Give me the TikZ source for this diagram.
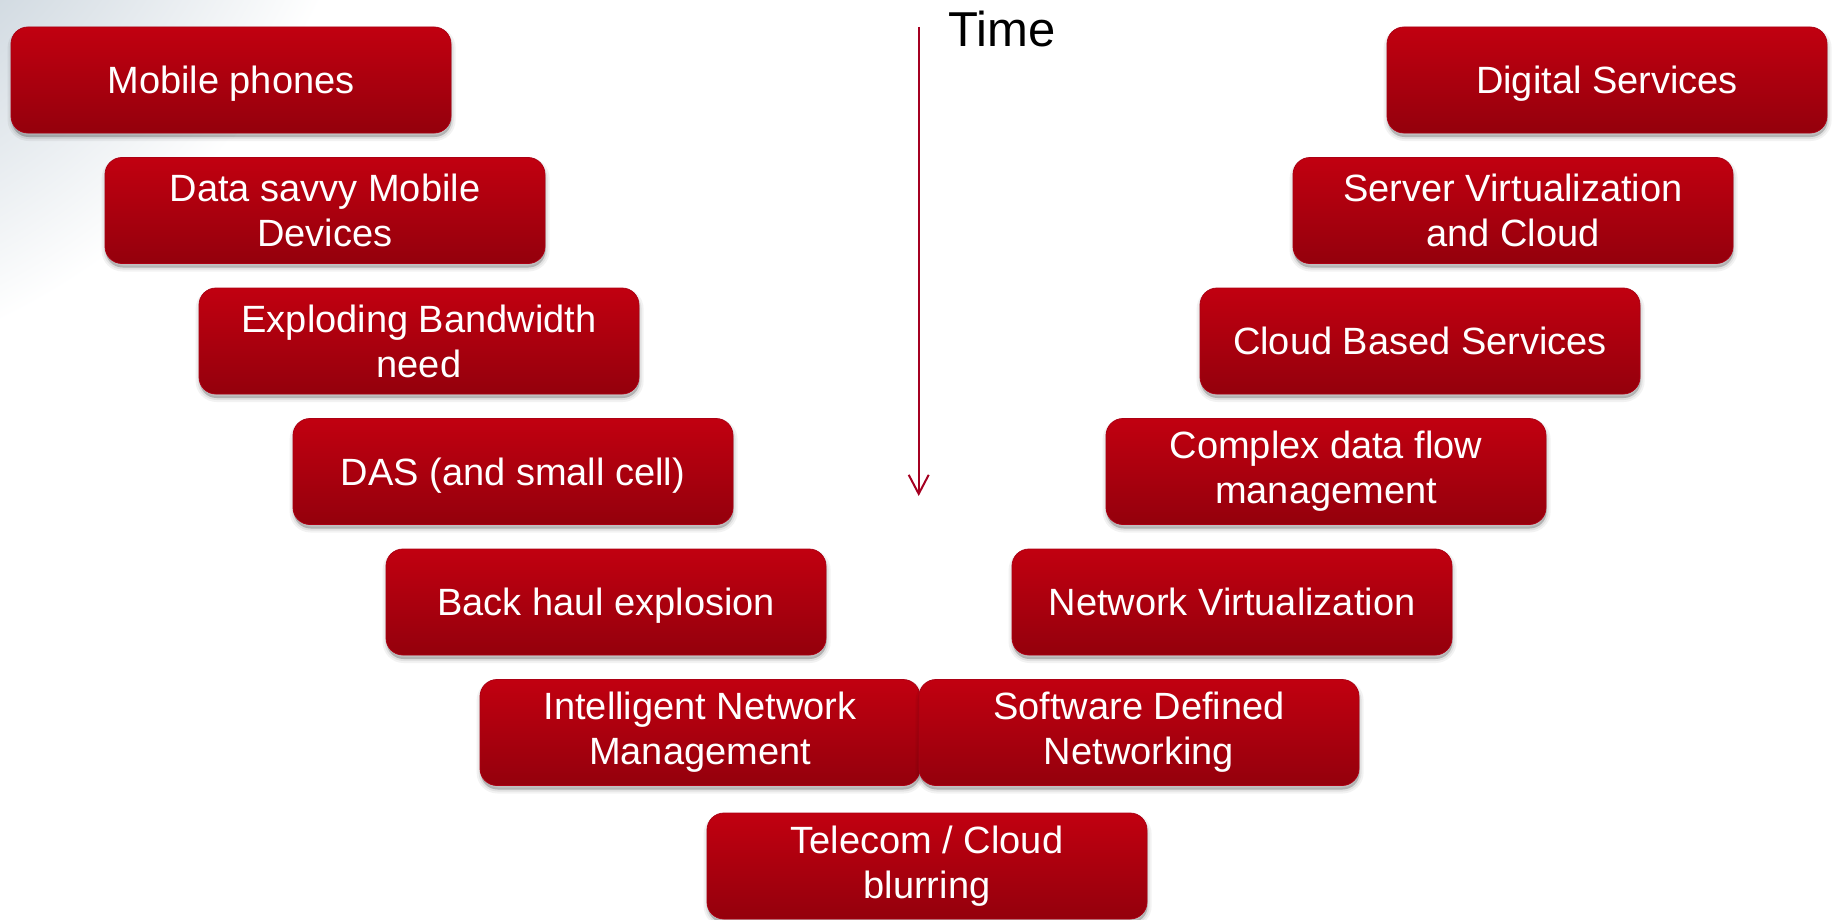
\documentclass[tikz,border=0pt]{standalone}
\usepackage{fontspec}
\setmainfont{Liberation Sans}
\usetikzlibrary{arrows.meta,shadows}
\definecolor{boxtop}{RGB}{193,0,16}
\definecolor{boxbot}{RGB}{148,0,12}
\definecolor{boxline}{RGB}{172,0,20}
\definecolor{arrowred}{RGB}{165,0,33}
\definecolor{glowinner}{RGB}{140,162,180}
\tikzset{
  box/.style={rounded corners=8.5pt, minimum width=220pt, minimum height=53pt,
    inner sep=0pt, align=center, text=white, top color=boxtop, bottom color=boxbot,
    draw=boxline, line width=0.4pt, font=\fontsize{19}{22.5}\selectfont,
    general shadow={draw=black, fill=black, line width=4pt, opacity=0.05, shadow xshift=0.3pt, shadow yshift=-2pt},
    general shadow={draw=black, fill=black, line width=2pt, opacity=0.07, shadow xshift=0.3pt, shadow yshift=-2pt},
    general shadow={fill=black, opacity=0.1, shadow xshift=0.3pt, shadow yshift=-2pt}},
  singleline/.style={text depth=0pt},
  timearrow/.style={arrowred, line width=1pt, -{Straight Barb[length=9.5pt, width=10pt]}},
  timelabel/.style={anchor=base west, inner sep=0pt, font=\fontsize{24.5}{29}\selectfont}
}
\begin{document}
\begin{tikzpicture}[x=0.5pt,y=0.5pt]
\useasboundingbox (0,-920) rectangle (1835,0);
\begin{scope}
  \clip (0,-920) rectangle (1835,0);
  \shade[inner color=glowinner, outer color=white] (-300,300) circle (690);
\end{scope}
% time arrow
\coordinate (ttop) at (918.7,-27);
\coordinate (tbot) at (918.7,-496);
\draw[timearrow] (ttop) -- (tbot);
\node[timelabel] (time) at (948,-47) {Time};
% left column
\node[box,singleline] (l1) at (231,-80) {Mobile phones};
\node[box] (l2) at (325,-210.5) {Data savvy Mobile\\Devices};
\node[box] (l3) at (419,-341) {Exploding Bandwidth\\need};
\node[box,singleline] (l4) at (513,-471.5) {DAS (and small cell)};
\node[box,singleline] (l5) at (606,-602) {Back haul explosion};
\node[box] (l6) at (700,-732.5) {Intelligent Network\\Management};
% right column
\node[box,singleline] (r1) at (1607,-80) {Digital Services};
\node[box] (r2) at (1513,-210.5) {Server Virtualization\\and Cloud};
\node[box,singleline] (r3) at (1420,-341) {Cloud Based Services};
\node[box] (r4) at (1326,-471.5) {Complex data flow\\management};
\node[box,singleline] (r5) at (1232,-602) {Network Virtualization};
\node[box] (r6) at (1139,-732.5) {Software Defined\\Networking};
% bottom
\node[box] (b) at (927,-866) {Telecom / Cloud\\blurring};
\end{tikzpicture}
\end{document}
